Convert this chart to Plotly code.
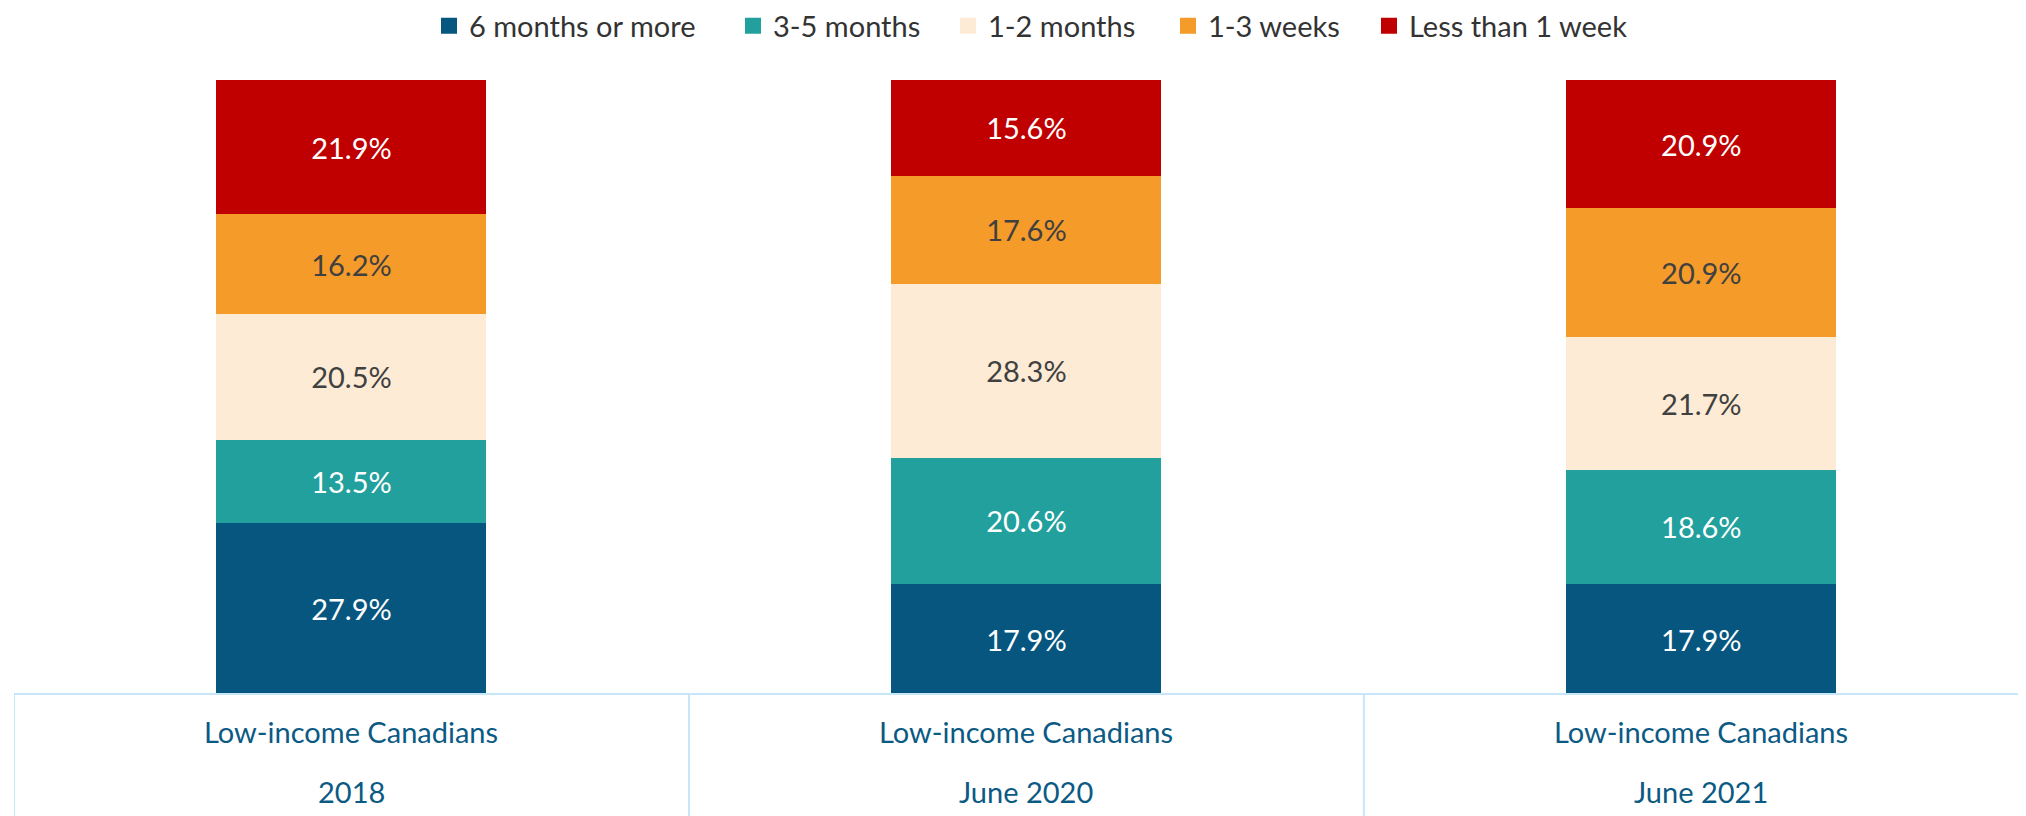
import plotly.graph_objects as go

# ---- data ----
categories = ["2018", "June 2020", "June 2021"]
group_label = "Low-income Canadians"
series_names = ["6 months or more", "3-5 months", "1-2 months", "1-3 weeks", "Less than 1 week"]
six_months_or_more = [27.9, 17.9, 17.9]
three_to_five_months = [13.5, 20.6, 18.6]
one_to_two_months = [20.5, 28.3, 21.7]
one_to_three_weeks = [16.2, 17.6, 20.9]
less_than_one_week = [21.9, 15.6, 20.9]

series_values = [six_months_or_more, three_to_five_months, one_to_two_months,
                 one_to_three_weeks, less_than_one_week]
colors = ["#06567f", "#21a09e", "#fdebd5", "#f59b2a", "#c00000"]
text_colors = ["#ffffff", "#ffffff", "#404040", "#404040", "#ffffff"]

FONT = "Lato"
W, H = 2018, 808
x_idx = list(range(len(categories)))
legend_ids = ["legend", "legend2", "legend3", "legend4", "legend5"]
legend_left_px = [421, 725, 940, 1160, 1361]

fig = go.Figure()
for name, vals, col, tcol in zip(series_names, series_values, colors, text_colors):
    fig.add_trace(go.Bar(
        x=x_idx, y=vals, name=name, legendgroup=name, showlegend=False,
        marker=dict(color=col, line=dict(width=0)),
        width=0.4,
        text=[f"{v:.1f}%" for v in vals],
        textposition="inside", insidetextanchor="middle",
        textfont=dict(family=FONT, size=29, color=tcol),
        constraintext="none",
        hoverinfo="skip",
    ))
# legend entries (larger square swatches), each in its own positioned legend
for name, col, lid in zip(series_names, colors, legend_ids):
    fig.add_trace(go.Scatter(
        x=[None], y=[None], mode="markers", name=name, legendgroup=name,
        legend=lid,
        marker=dict(symbol="square", size=16, color=col, line=dict(width=0)),
        showlegend=True, hoverinfo="skip",
    ))

legend_layout = {}
for lid, lx in zip(legend_ids, legend_left_px):
    legend_layout[lid] = dict(
        orientation="h", x=lx / W, xref="container", xanchor="left",
        y=1 - 18 / H, yref="container", yanchor="middle",
        font=dict(family=FONT, size=29, color="#333333"),
        bgcolor="rgba(0,0,0,0)", itemwidth=30,
    )

# category labels
annotations = []
for i, c in enumerate(categories):
    annotations.append(dict(x=i, xref="x", y=0, yref="paper", yshift=-37,
                            text=group_label, showarrow=False, yanchor="middle",
                            font=dict(family=FONT, size=29, color="#0b5a84")))
    annotations.append(dict(x=i, xref="x", y=0, yref="paper", yshift=-97,
                            text=c, showarrow=False, yanchor="middle",
                            font=dict(family=FONT, size=29, color="#0b5a84")))

line_col = "#c6e7f9"
shapes = [dict(type="line", xref="paper", yref="paper", x0=0, x1=1, y0=0, y1=0,
               line=dict(color=line_col, width=2))]
for xb in [-0.5, 0.5, 1.5, 2.5]:
    shapes.append(dict(type="line", xref="x", yref="paper", x0=xb, x1=xb, y0=0, y1=-0.3,
                       line=dict(color=line_col, width=2)))

fig.update_layout(
    barmode="stack",
    width=W, height=H,
    margin=dict(l=6, r=0, t=72, b=122),
    paper_bgcolor="white", plot_bgcolor="white",
    font=dict(family=FONT, color="#333333"),
    showlegend=True,
    xaxis=dict(range=[-0.5, 2.481], showticklabels=False, showgrid=False,
               zeroline=False, showline=False, ticks=""),
    yaxis=dict(range=[0, 100], visible=False),
    annotations=annotations,
    shapes=shapes,
    uniformtext=dict(mode=False),
    **legend_layout,
)

fig.write_html("out.html")
